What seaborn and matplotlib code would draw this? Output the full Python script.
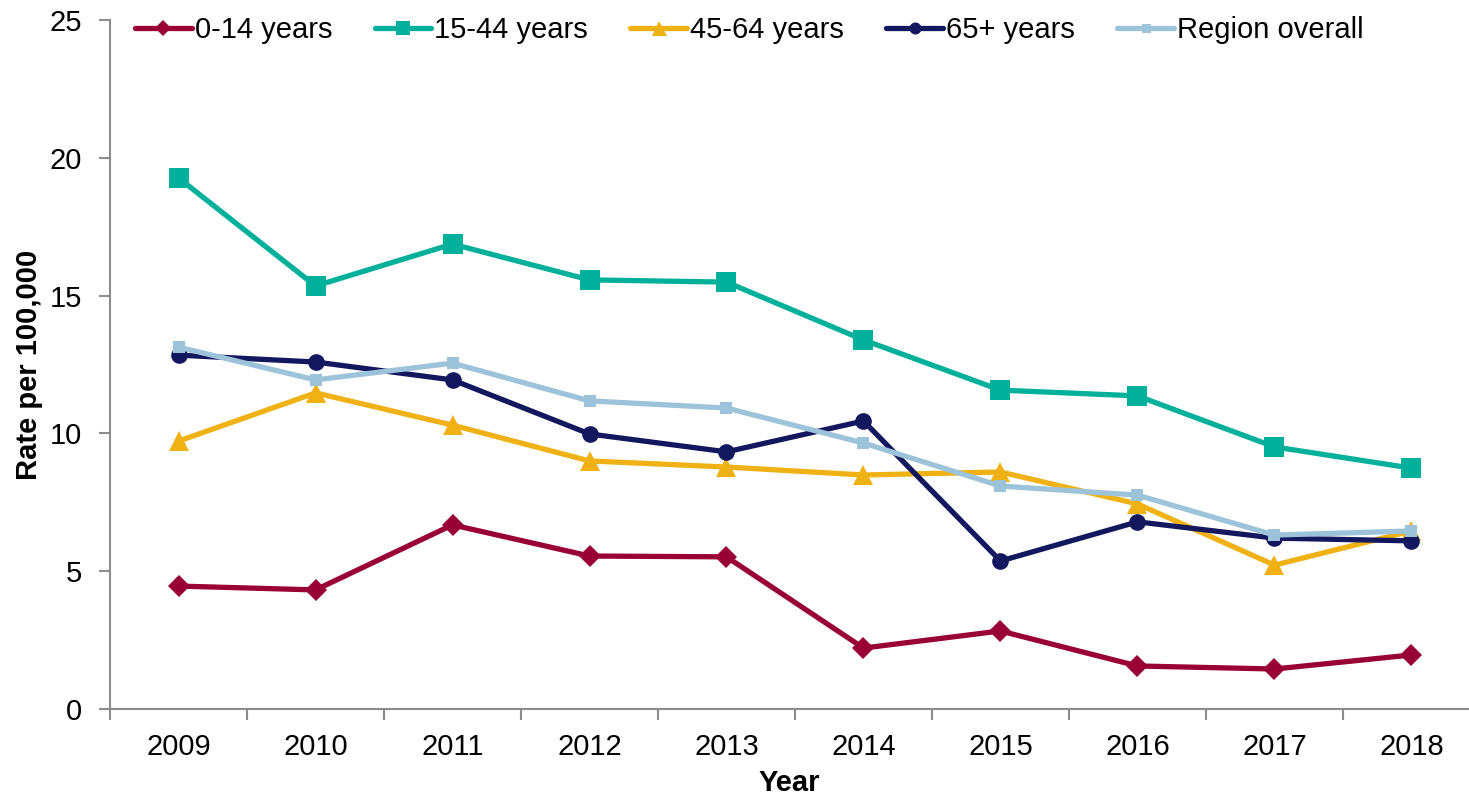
import pandas as pd
import numpy as np
import matplotlib.pyplot as plt
import seaborn as sns

# values
years = [2009, 2010, 2011, 2012, 2013, 2014, 2015, 2016, 2017, 2018]
age_0_14 = [4.46, 4.32, 6.68, 5.55, 5.52, 2.21, 2.83, 1.56, 1.45, 1.96]
age_15_44 = [19.27, 15.35, 16.87, 15.57, 15.49, 13.39, 11.57, 11.36, 9.51, 8.74]
age_45_64 = [9.72, 11.47, 10.30, 9.00, 8.78, 8.49, 8.60, 7.44, 5.22, 6.46]
age_65_plus = [12.84, 12.59, 11.94, 9.98, 9.33, 10.45, 5.37, 6.79, 6.20, 6.10]
region_overall = [13.13, 11.94, 12.55, 11.18, 10.92, 9.65, 8.09, 7.76, 6.31, 6.46]

series_names = ['0-14 years', '15-44 years', '45-64 years', '65+ years', 'Region overall']

sns.set_style('white')
plt.rcParams['font.family'] = ['Liberation Sans', 'DejaVu Sans']
plt.rcParams['text.color'] = 'black'
plt.rcParams['axes.labelcolor'] = 'black'
plt.rcParams['xtick.labelcolor'] = 'black'
plt.rcParams['ytick.labelcolor'] = 'black'

fig = plt.figure(figsize=(14.69, 8.01), dpi=100)
ax = fig.add_axes([0.0749, 0.1149, 0.9251, 0.8601])

# long-form frame for seaborn
pos = list(range(len(years)))
df = pd.DataFrame({
    'pos': pos * 5,
    'rate': age_0_14 + age_15_44 + age_45_64 + age_65_plus + region_overall,
    'series': sum([[n] * len(years) for n in series_names], []),
})

styles = {
    '0-14 years': ('#990033', 'D', 11),
    '15-44 years': ('#00B09B', 's', 14),
    '45-64 years': ('#F0B114', '^', 15),
    '65+ years': ('#12175E', 'o', 12),
    'Region overall': ('#9DC3DB', 's', 9),
}

for name in series_names:
    color, marker, ms = styles[name]
    sns.lineplot(data=df[df['series'] == name], x='pos', y='rate', ax=ax,
                 color=color, marker=marker, markersize=ms, linewidth=3.8,
                 markeredgewidth=0, label=name)

ax.set_yticks([0, 5, 10, 15, 20, 25])
ax.set_xticks(pos)
ax.set_xticklabels([str(y) for y in years])
ax.set_xticks(np.arange(-0.5, 10, 1), minor=True)
ax.set_ylim(0, 25)
ax.set_xlim(-0.5, 9.42)

for s in ['top', 'right']:
    ax.spines[s].set_visible(False)
for s in ['left', 'bottom']:
    ax.spines[s].set_color('#8C8C8C')
    ax.spines[s].set_linewidth(1.5)

ax.tick_params(axis='y', which='major', left=True, direction='out', length=8,
               width=1.5, color='#8C8C8C', labelsize=21, pad=12)
ax.tick_params(axis='x', which='major', bottom=False, length=0,
               labelsize=21, pad=17)
ax.tick_params(axis='x', which='minor', bottom=True, direction='out', length=8,
               width=1.5, color='#8C8C8C')

ax.set_xlabel('Year', fontsize=21, fontweight='bold', labelpad=6)
ax.set_ylabel('Rate per 100,000', fontsize=21, fontweight='bold', labelpad=5)

leg = ax.legend(loc='center left', bbox_to_anchor=(0.0098, 0.9855), ncol=5,
                frameon=False, fontsize=21, handlelength=1.95, handletextpad=0.1,
                columnspacing=1.45, borderaxespad=0)
for h in leg.legend_handles:
    h.set_markersize(h.get_markersize() * 0.72)

fig.savefig('out.png', dpi=100)
